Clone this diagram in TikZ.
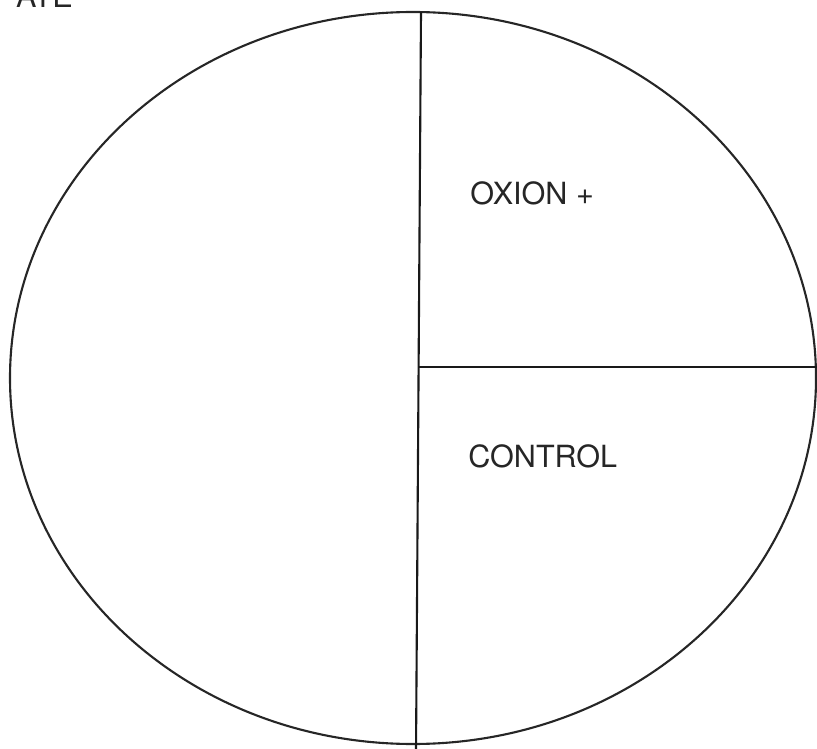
\documentclass[tikz,border=0pt]{standalone}
\usepackage{fontspec}
\setmainfont{TeX Gyre Heros}
\usetikzlibrary{positioning}

\begin{document}
\begin{tikzpicture}[
    x=0.02cm, y=-0.02cm,
    rim/.style={line width=1.2pt, draw=black!85},
    split/.style={line width=1.2pt, draw=black!90},
    lbl/.style={font=\fontsize{17.4}{20}\selectfont, inner sep=0, text=black!85},
]
    \useasboundingbox (0,0) rectangle (817,749);

    % Plate
    \draw[rim] (413,378) ellipse [x radius=403, y radius=366];

    % Dividers
    \coordinate (top) at (421,12);
    \coordinate (bot) at (416,752);
    \coordinate (mid) at (418.6,367);
    \coordinate (rgt) at (820,367);
    \draw[split] (top) -- (bot);
    \draw[split] (mid) -- (rgt);

    % Labels
    \node[lbl, anchor=base west] (oxion) at (470,205) {OXION +};
    \node[lbl, anchor=base west] (control) at (468,467) {CONTROL};
    \node[lbl, anchor=base east] (title) at (73,8) {ATE};
\end{tikzpicture}
\end{document}
